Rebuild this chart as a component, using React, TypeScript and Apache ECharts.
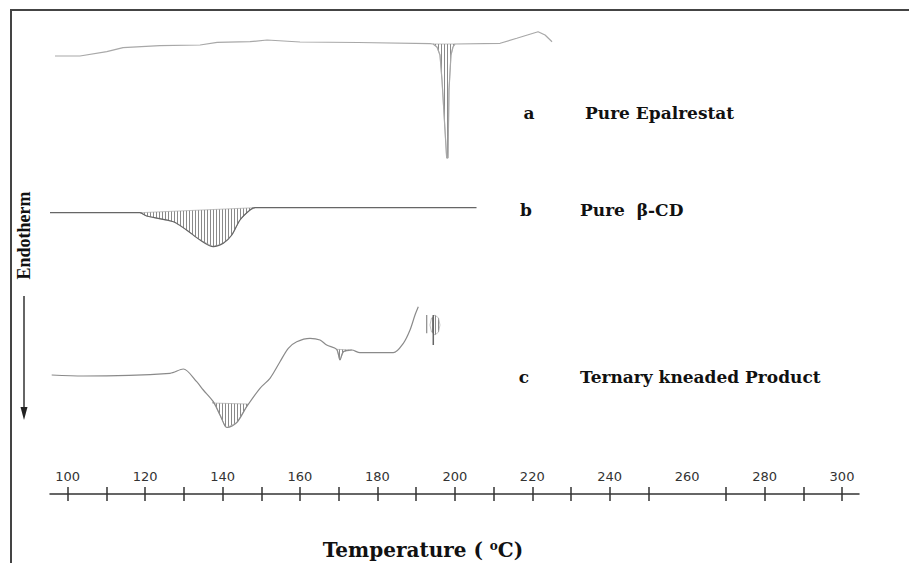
import React, { useEffect, useRef } from "react";
import * as echarts from "echarts";

// ---- axis constants ----
const X_MIN = 95.43;
const X_MAX = 304.39;
const TICK_VALUES = [100, 110, 120, 130, 140, 150, 160, 170, 180, 190, 200, 210, 220, 230, 240, 250, 270, 280, 290, 300];
const TICK_LABELS = [100, 120, 140, 160, 180, 200, 220, 240, 260, 280, 300];

// ---- curves (temperature °C, relative heat-flow units; up = exo) ----
const CURVE_A: number[][] = [
  [96.72, 438], [103.18, 438], [110.1, 442.3], [114.3, 446.3], [123.8, 448.3], [134.2, 449],
  [138.6, 451.7], [147.1, 452.3], [151.5, 454], [160.0, 452], [175.0, 451.5], [193.6, 450.3],
  [194.36, 450], [195.39, 447], [196.16, 439], [196.68, 414], [197.89, 336], [198.23, 336],
  [198.49, 404], [199.0, 439], [199.52, 447], [200.04, 450], [211.7, 450.7], [216.0, 455.7],
  [221.5, 462.3], [223.3, 459], [225.1, 452.3],
];
const HATCH_A: number[][] = [
  [194.36, 450], [195.39, 447], [196.16, 439], [196.68, 414], [197.89, 336], [198.23, 336],
  [198.49, 404], [199.0, 439], [199.52, 447], [200.04, 450],
];

const CURVE_B: number[][] = [
  [95.43, 281.3], [118.67, 281.3], [120.4, 278], [127.3, 272.3], [130.7, 264], [134.2, 254],
  [137.6, 247.3], [140.2, 250.7], [142.4, 259], [144.5, 274], [147.1, 284], [148.4, 286.3],
  [205.6, 286.3],
];
const HATCH_B: number[][] = [
  [118.67, 281.3], [120.4, 278], [127.3, 272.3], [130.7, 264], [134.2, 254], [137.6, 247.3],
  [140.2, 250.7], [142.4, 259], [144.5, 274], [147.1, 284], [148.4, 286.3],
];

const CURVE_C: number[][] = [
  [95.87, 119], [104.03, 118], [126.42, 120.7], [129.86, 125], [133.32, 112.3], [135.03, 104],
  [137.61, 92.3], [139.34, 79], [140.63, 68], [141.15, 66.5], [143.65, 71.3], [146.23, 87.3],
  [149.67, 105.7], [152.25, 115.7], [154.84, 132.3], [156.98, 145.7], [159.15, 152.3],
  [162.59, 155.7], [165.17, 154], [166.9, 149], [169.48, 144.7], [170.33, 134], [171.19, 142.3],
  [173.36, 144], [175.5, 141.3], [184.1, 141.3], [186.69, 150.7], [188.42, 164], [189.71, 179],
  [190.56, 187.3],
];
const CURVE_C_TAIL: number[][] = [[192.73, 179], [192.73, 160.7]];
const CURVE_C_STEM: number[][] = [[194.43, 179], [194.43, 149]];
const HATCH_C1: number[][] = [
  [137.3, 91], [137.61, 92.3], [139.34, 79], [140.63, 68], [141.15, 66.5], [143.65, 71.3],
  [146.23, 87.3], [146.5, 90],
];
const HATCH_C2: number[][] = [[169.48, 144.7], [170.33, 134], [171.19, 142.3], [173.36, 144]];
const HATCH_C3: number[][] = [
  [193.58, 169], [193.97, 176], [194.87, 179], [195.78, 176], [196.16, 169], [195.78, 162],
  [194.87, 159], [193.97, 162],
];

const LABELS = [
  { tag: "a", name: "Pure Epalrestat", tx: 529, nx: 585, y: 113 },
  { tag: "b", name: "Pure  β-CD", tx: 526, nx: 580, y: 210 },
  { tag: "c", name: "Ternary kneaded Product", tx: 524, nx: 580, y: 377 },
];

function makeHatch(): HTMLCanvasElement {
  const c = document.createElement("canvas");
  c.width = 3;
  c.height = 4;
  const ctx = c.getContext("2d")!;
  ctx.fillStyle = "#fff";
  ctx.fillRect(0, 0, 3, 4);
  ctx.fillStyle = "#8a8a8a";
  ctx.fillRect(0, 0, 1, 4);
  return c;
}

function hatchSeries(pts: number[][], fill: any) {
  return {
    type: "custom",
    coordinateSystem: "cartesian2d",
    silent: true,
    z: 1,
    data: [pts[0]],
    encode: { x: 0, y: 1 },
    renderItem: (_p: any, api: any) => ({
      type: "polygon",
      shape: { points: pts.map((p) => api.coord(p)) },
      style: { fill, stroke: "#9a9a9a", lineWidth: 0.6 },
    }),
  };
}

function lineSeries(data: number[][], color: string, width = 1, smooth: any = false) {
  return {
    type: "line",
    data,
    showSymbol: false,
    symbol: "none",
    smooth,
    z: 2,
    silent: true,
    lineStyle: { color, width },
  };
}

export default function App() {
  const ref = useRef<HTMLDivElement>(null);
  useEffect(() => {
    const chart = echarts.init(ref.current!, null, { renderer: "svg" });
    const hatch = { image: makeHatch(), repeat: "repeat" };
    const serif = '"DejaVu Serif", serif';
    const graphics: any[] = [
      { type: "polyline", shape: { points: [[11, 563], [11, 10], [909, 10]] }, style: { stroke: "#444", lineWidth: 2, fill: "none" }, z: 10 },
      {
        type: "text", x: 23.5, y: 235.5, rotation: Math.PI / 2, z: 10,
        style: { text: "Endotherm", font: 'bold 18px "Liberation Serif", serif', fill: "#111", align: "center", verticalAlign: "middle" },
      },
      { type: "line", shape: { x1: 24, y1: 296, x2: 24, y2: 410 }, style: { stroke: "#333", lineWidth: 1.5 }, z: 10 },
      { type: "polygon", shape: { points: [[20.5, 407], [27.5, 407], [24, 420]] }, style: { fill: "#222" }, z: 10 },
      {
        type: "text", x: 423, y: 550, z: 10,
        style: {
          text: "Temperature ( {sup|o}C)",
          font: "bold 20px " + serif,
          fill: "#111",
          align: "center",
          verticalAlign: "middle",
          rich: { sup: { fontSize: 12, fontWeight: "bold", fontFamily: serif, verticalAlign: "top", fill: "#111" } },
        },
      },
    ];
    LABELS.forEach((l) => {
      graphics.push({
        type: "text", x: l.tx, y: l.y, z: 10,
        style: { text: l.tag, font: "bold 17px " + serif, fill: "#111", align: "center", verticalAlign: "middle" },
      });
      graphics.push({
        type: "text", x: l.nx, y: l.y, z: 10,
        style: { text: l.name, font: "bold 17px " + serif, fill: "#111", align: "left", verticalAlign: "middle" },
      });
    });

    chart.setOption({
      animation: false,
      backgroundColor: "#fff",
      grid: { left: 50, right: 50, top: 10, bottom: 69, outerBoundsMode: "none", containLabel: false },
      xAxis: [
        {
          type: "value", min: X_MIN, max: X_MAX, position: "bottom",
          axisLine: { show: true, lineStyle: { color: "#333", width: 1.5 } },
          axisTick: { show: false },
          splitLine: { show: false },
          axisLabel: { inside: true, margin: 11, customValues: TICK_LABELS, color: "#333", fontFamily: "DejaVu Sans", fontSize: 13 },
        },
        {
          type: "value", min: X_MIN, max: X_MAX, position: "bottom", offset: 7,
          axisLine: { show: false },
          axisTick: { show: true, inside: true, length: 14, customValues: TICK_VALUES, lineStyle: { color: "#333", width: 1.5 } },
          axisLabel: { show: false },
          splitLine: { show: false },
        },
      ],
      yAxis: { type: "value", min: 0, max: 484, show: false },
      series: [
        hatchSeries(HATCH_A, hatch),
        hatchSeries(HATCH_B, hatch),
        hatchSeries(HATCH_C1, hatch),
        hatchSeries(HATCH_C2, hatch),
        hatchSeries(HATCH_C3, hatch),
        lineSeries(CURVE_A, "#a8a8a8", 1.2),
        lineSeries(CURVE_B, "#666", 1.2, 0.3),
        lineSeries(CURVE_C, "#8a8a8a", 1.2, 0.3),
        lineSeries(CURVE_C_TAIL, "#8a8a8a", 1.2),
        lineSeries(CURVE_C_STEM, "#666", 1.5),
      ],
      graphic: graphics,
    });
    return () => chart.dispose();
  }, []);
  return <div ref={ref} style={{ position: "fixed", left: 0, top: 0, width: 909, height: 563, background: "#fff" }} />;
}
